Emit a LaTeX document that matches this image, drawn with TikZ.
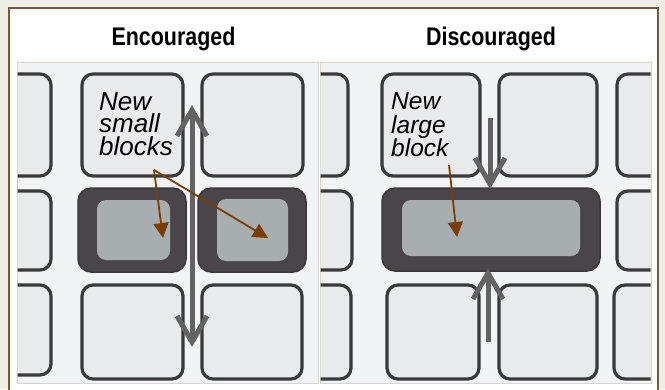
\documentclass[tikz,border=0pt]{standalone}
\usepackage{fontspec}
\setmainfont{Liberation Sans}
\newfontfamily\headfont[FakeStretch=0.84]{Liberation Sans}
\usetikzlibrary{arrows.meta}
\definecolor{bgout}{HTML}{EEEEE6}
\definecolor{framebrown}{HTML}{7B5A33}
\definecolor{photo}{HTML}{F1F3F5}
\definecolor{photoedge}{HTML}{DDD3C6}
\definecolor{ink}{HTML}{3A393C}
\definecolor{blockfill}{HTML}{E8EAEC}
\definecolor{darkink}{HTML}{4A454A}
\definecolor{darkfill}{HTML}{A8ADAF}
\definecolor{arrowgray}{HTML}{636363}
\definecolor{brownarr}{HTML}{7A3D06}
\tikzset{
  blk/.style={draw=ink, fill=blockfill, line width=3.2pt, rounded corners=11pt, inner sep=0pt},
  darkblk/.style={draw=darkink!80!black, fill=darkink, line width=1.5pt, rounded corners=13pt, inner sep=0pt},
  darkin/.style={fill=darkfill, rounded corners=9pt, inner sep=0pt},
  grayarrow/.style={draw=arrowgray, line width=5pt, arrows={-Straight Barb[length=26pt,width=30pt,line width=5pt]}},
  grayboth/.style={draw=arrowgray, line width=5pt, arrows={Straight Barb[length=26pt,width=30pt,line width=5pt]-Straight Barb[length=26pt,width=30pt,line width=5pt]}},
  brownarrow/.style={draw=brownarr, line width=1.8pt, arrows={-Triangle[length=15pt,width=15pt]}},
  heading/.style={font=\headfont\bfseries\fontsize{25.5}{28}\selectfont, anchor=base, inner sep=0pt},
  lbl/.style={align=left, anchor=north west, inner sep=0pt}
}
\begin{document}
\begin{tikzpicture}[x=1pt,y=-1pt]
\useasboundingbox (0,0) rectangle (665,389);
\begin{scope}
\clip (0,0) rectangle (665,389);
\fill[bgout] (0,0) rectangle (665,389);
\draw[framebrown, fill=white, line width=2pt] (9,8) rectangle (658,400);

% headings
\node[heading] (h1) at (173.5,45) {Encouraged};
\node[heading] (h2) at (491,45) {Discouraged};

% ---------- left photo ----------
\draw[photoedge, fill=photo, line width=1pt] (17,62) rectangle (318,383);
\begin{scope}
\clip (17.5,62.5) rectangle (317.5,382.5);
\node[blk, minimum width=71pt, minimum height=102pt] (L11) at (15.5,125) {};
\node[blk, minimum width=101pt, minimum height=102pt] (L12) at (132.5,125) {};
\node[blk, minimum width=101pt, minimum height=102pt] (L13) at (252.5,125) {};
\node[blk, minimum width=71pt, minimum height=79pt] (L21) at (15.5,230.5) {};
\node[darkblk, minimum width=108pt, minimum height=84pt] (L22) at (132,230) {};
\node[darkin, minimum width=73pt, minimum height=60pt] (L22i) at (133.5,230) {};
\node[darkblk, minimum width=108pt, minimum height=84pt] (L23) at (252,230) {};
\node[darkin, minimum width=71pt, minimum height=62pt] (L23i) at (252.5,230) {};
\node[blk, minimum width=71pt, minimum height=90pt] (L31) at (15.5,330) {};
\node[blk, minimum width=101pt, minimum height=94pt] (L32) at (132.5,332) {};
\node[blk, minimum width=100pt, minimum height=94pt] (L33) at (252,332) {};
\end{scope}

% ---------- right photo ----------
\draw[photoedge, fill=photo, line width=1pt] (320,62) rectangle (651,383);
\begin{scope}
\clip (320.5,62.5) rectangle (650.5,382.5);
\node[blk, minimum width=68pt, minimum height=102pt] (R11) at (314,125) {};
\node[blk, minimum width=98pt, minimum height=102pt] (R12) at (431,125) {};
\node[blk, minimum width=98pt, minimum height=102pt] (R13) at (548,125) {};
\node[blk, minimum width=73pt, minimum height=102pt] (R14) at (653.5,125) {};
\node[blk, minimum width=72pt, minimum height=79pt] (R21) at (316,230.5) {};
\node[darkblk, minimum width=218pt, minimum height=83pt] (R22) at (491,229.5) {};
\node[darkin, minimum width=178pt, minimum height=56pt] (R22i) at (491,228) {};
\node[blk, minimum width=73pt, minimum height=79pt] (R24) at (653.5,230.5) {};
\node[blk, minimum width=71pt, minimum height=94pt] (R31) at (315.5,332) {};
\node[blk, minimum width=92pt, minimum height=94pt] (R32) at (433,332) {};
\node[blk, minimum width=98pt, minimum height=94pt] (R33) at (548,332) {};
\node[blk, minimum width=76pt, minimum height=94pt] (R34) at (652,332) {};
\end{scope}

% gray arrows
\coordinate (gaT) at (192,105);
\coordinate (gaB) at (192,347);
\draw[grayboth] (gaT) -- (gaB);
\coordinate (raS) at (490,118);
\coordinate (raE) at (490,189);
\draw[grayarrow] (raS) -- (raE);
\coordinate (rbS) at (488,342);
\coordinate (rbE) at (488,268);
\draw[grayarrow] (rbS) -- (rbE);

% labels
\node[lbl, font=\itshape\fontsize{26}{22.5}\selectfont] (t1) at (99,92) {New\\small\\blocks};
\node[lbl, font=\itshape\fontsize{24.5}{23.5}\selectfont] (t2) at (391,92.5) {New\\large\\block};

% brown arrows
\coordinate (b1) at (154,170);
\coordinate (b1a) at (163,238);
\coordinate (b1b) at (268,238);
\draw[brownarrow] (b1) -- (b1a);
\draw[brownarrow] (b1) -- (b1b);
\coordinate (b2) at (449,165);
\coordinate (b2a) at (457,237);
\draw[brownarrow] (b2) -- (b2a);
\end{scope}
\end{tikzpicture}
\end{document}
